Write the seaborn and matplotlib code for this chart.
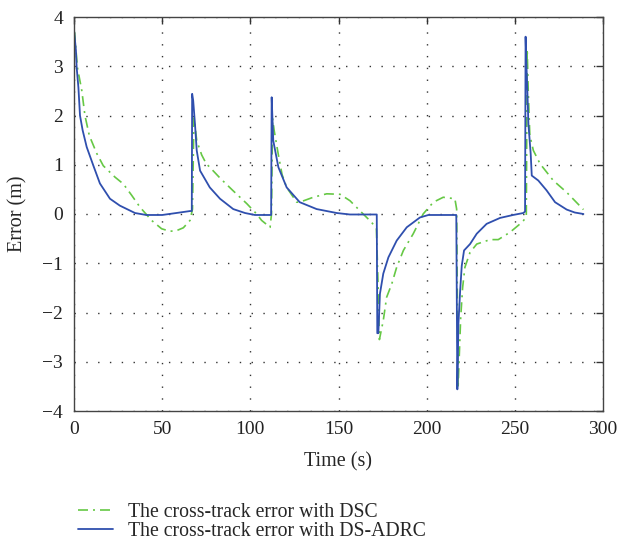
import numpy as np
import pandas as pd
import matplotlib
matplotlib.use("Agg")
import matplotlib.pyplot as plt
import seaborn as sns

# ---- data ----
t_adrc = [0, 1.1, 1.5, 2.5, 3.4, 4.9, 7.2, 11, 14.7, 20.4, 26, 34.6, 41, 50, 58, 65.8, 66.8,
          67.0, 67.6, 68.6, 69.6, 71.5, 77, 82.8, 90.3, 97, 102.6, 111.2, 111.8,
          112.1, 113, 115.9, 120.6, 128, 137.6, 149, 156.5, 171.7,
          172.0, 172.6, 173.5, 175.4, 178.3, 183, 188.7, 196.2, 201, 216.1, 216.8,
          217.4, 218, 219, 219.9, 221.2, 224.6, 228.4, 234, 241.6, 249, 254.8, 255.8,
          256.1, 256.6, 257.1, 257.7, 259, 259.6, 263.3, 268, 272.8, 279.4, 284, 288.9]
e_adrc = [3.74, 3.32, 2.98, 2.57, 2.0, 1.70, 1.36, 0.98, 0.62, 0.31, 0.17, 0.02, -0.02, -0.02, 0.02, 0.06, 0.06,
          2.44, 2.30, 1.83, 1.29, 0.88, 0.54, 0.31, 0.10, 0.02, -0.02, -0.02, -0.02,
          2.37, 1.49, 0.95, 0.54, 0.24, 0.10, 0.02, -0.01, -0.01,
          -2.42, -2.42, -1.62, -1.21, -0.88, -0.54, -0.27, -0.07, -0.02, -0.02, -0.02,
          -3.56, -2.23, -1.55, -1.05, -0.74, -0.61, -0.40, -0.20, -0.08, -0.02, 0.02, 0.05,
          3.60, 3.0, 2.51, 1.83, 1.22, 0.78, 0.68, 0.48, 0.24, 0.09, 0.03, 0.0]

t_dsc = [0, 0.4, 1.9, 4.4, 6.2, 8.7, 12.9, 16.6, 23.2, 28, 32.7, 37.4, 44, 49.7, 54.4, 58, 62, 65.8, 67.2,
         68.0, 68.6, 69.6, 72.4, 75, 77, 82.8, 90, 98, 103.6, 106.4, 111.2, 112.0,
         112.6, 113.5, 115.9, 118, 120.6, 126.3, 128, 135.7, 143.3, 150.9, 156.5, 164, 168.8, 171.5, 172.5,
         173.2, 175.4, 177.3, 180.2, 183, 186.8, 192.4, 198, 203.8, 209.4, 216, 217.0,
         217.8, 219.3, 220.4, 221.7, 224.6, 228.4, 236, 240.6, 247.3, 253, 255, 256.5,
         257.0, 257.6, 258.5, 260.5, 264.3, 271.8, 279.4, 288.9]
e_dsc = [3.72, 3.66, 2.98, 2.51, 2.0, 1.59, 1.23, 0.98, 0.75, 0.61, 0.38, 0.14, -0.13, -0.30, -0.35, -0.34, -0.28, -0.13, 0.10,
         1.95, 1.80, 1.49, 1.20, 1.02, 0.95, 0.73, 0.48, 0.21, 0.0, -0.13, -0.27, 0.0,
         1.95, 1.70, 1.20, 0.80, 0.54, 0.24, 0.24, 0.34, 0.41, 0.40, 0.27, 0.0, -0.17, -0.30, -1.50,
         -2.55, -2.16, -1.69, -1.42, -1.08, -0.74, -0.40, 0.0, 0.24, 0.34, 0.31, 0.10,
         -3.54, -2.10, -1.49, -1.08, -0.78, -0.61, -0.52, -0.52, -0.37, -0.20, -0.13, -0.05,
         3.35, 2.50, 1.60, 1.29, 1.02, 0.68, 0.44, 0.09]

x_ticks = [0, 50, 100, 150, 200, 250, 300]
y_ticks = [-4, -3, -2, -1, 0, 1, 2, 3, 4]
label_dsc = "The cross-track error with DSC"
label_adrc = "The cross-track error with DS-ADRC"

sns.set_style("white")
plt.rcParams['font.family'] = ['Liberation Serif', 'DejaVu Serif']
plt.rcParams['font.size'] = 14

fig = plt.figure(figsize=(6.18, 5.40), dpi=100)
ax = fig.add_axes([74 / 618, 1 - 411 / 540, (603 - 74) / 618, (411 - 17) / 540])

df_dsc = pd.DataFrame({"t": t_dsc, "e": e_dsc})
df_adrc = pd.DataFrame({"t": t_adrc, "e": e_adrc})

sns.lineplot(data=df_dsc, x="t", y="e", ax=ax, estimator=None, sort=False,
             color="#66c845", lw=1.2, label=label_dsc, dashes=False)
ax.lines[-1].set_dashes([6, 3, 1.2, 3])
sns.lineplot(data=df_adrc, x="t", y="e", ax=ax, estimator=None, sort=False,
             color="#2f4fae", lw=1.3, label=label_adrc)

ax.set_xlim(0, 300)
ax.set_ylim(-4, 4)
ax.set_xticks(x_ticks)
ax.set_yticks(y_ticks)
ax.set_xlabel("Time (s)", fontsize=14.5)
ax.set_ylabel("Error (m)", fontsize=14.5)
ax.yaxis.set_label_coords((27 - 74) / 529, 0.5)
ax.xaxis.set_label_coords(0.5, (411 - 452) / 394)
ax.grid(True, color="#333333", linestyle=(0, (1, 7.5)), lw=1.0)
ax.tick_params(direction="in", top=True, right=True, length=5, width=1, colors="#333333",
               labelcolor="#222222", labelsize=14)
ax.tick_params(axis="y", pad=8)
ax.tick_params(axis="x", pad=7)
for s in ax.spines.values():
    s.set_color("#444444")
    s.set_linewidth(1.0)

handles, labels = ax.get_legend_handles_labels()
ax.get_legend().remove()
fig.legend(handles, labels, loc="upper left", bbox_to_anchor=(70 / 618, 1 - 495 / 540),
           frameon=False, fontsize=14.2, handlelength=1.8, labelspacing=0.0, handletextpad=0.75,
           borderaxespad=0)

fig.savefig("out.png", dpi=100)
